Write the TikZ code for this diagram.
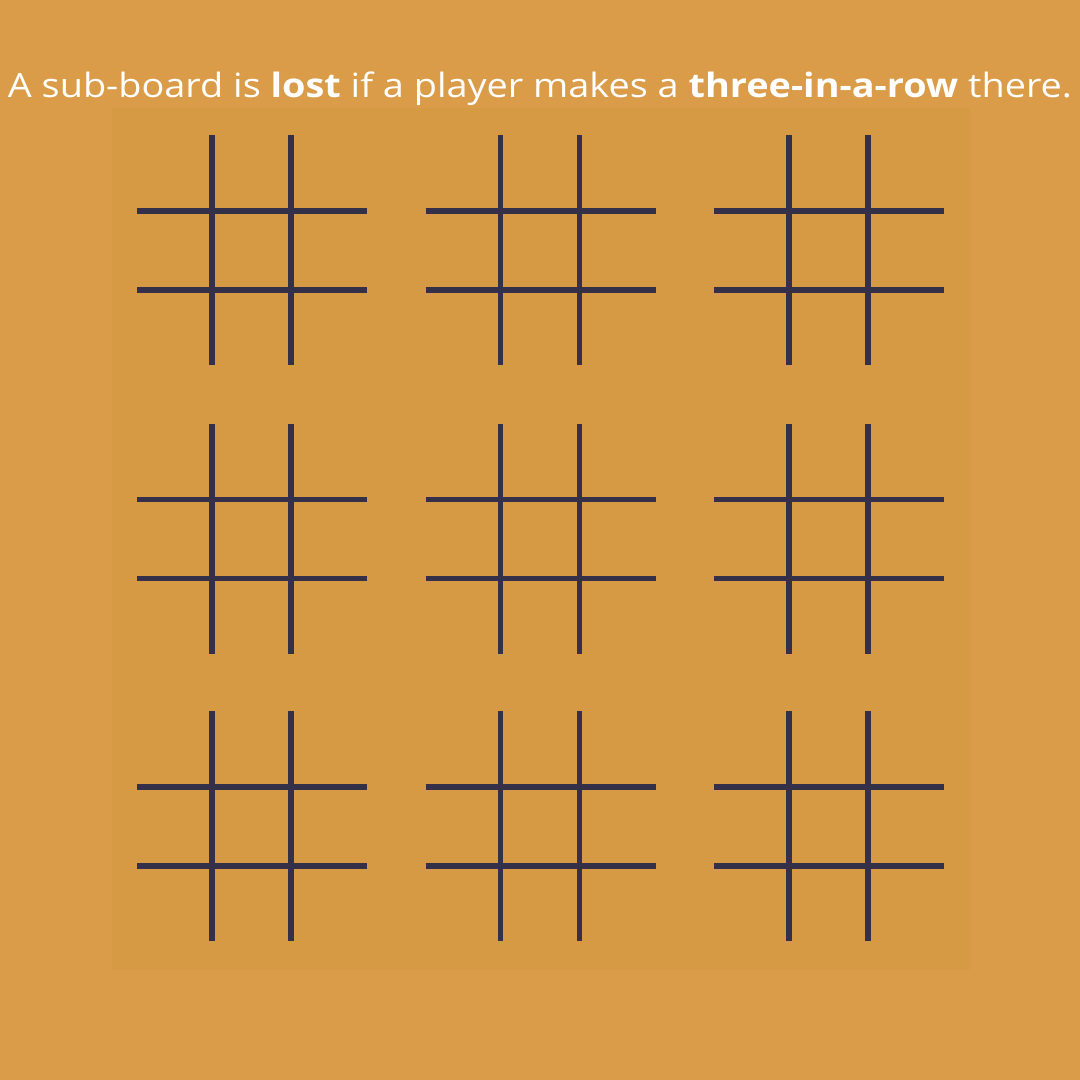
\documentclass[tikz,border=0pt]{standalone}
\usepackage{fontspec}
\setmainfont{Open Sans}
\definecolor{bg}{HTML}{DA9C48}
\definecolor{inner}{HTML}{D79A44}
\definecolor{ink}{HTML}{35304A}
\tikzset{
  gridline/.style={draw=ink, line width=5.5pt},
  caption/.style={text=white, font=\fontsize{33.5}{38}\selectfont, inner sep=0pt}
}
\begin{document}
\begin{tikzpicture}[x=1pt,y=-1pt]
\fill[bg] (0,0) rectangle (1080,1080);
\useasboundingbox (0,0) rectangle (1080,1080);
\fill[inner] (112,108) rectangle (970,970);
\node[caption, anchor=base] (title) at (540,97) {\resizebox{1064pt}{\height}{A sub-board is \textbf{lost} if a player makes a \textbf{three-in-a-row} there.}};
\foreach \c/\cx in {0/0,1/288.5,2/577} {
  \foreach \r/\ry in {0/0,1/288.5,2/576} {
    \begin{scope}[shift={(\cx,\ry)}]
      \coordinate (v1t-\c\r) at (212,135);
      \coordinate (v1b-\c\r) at (212,365);
      \coordinate (v2t-\c\r) at (291,135);
      \coordinate (v2b-\c\r) at (291,365);
      \coordinate (h1l-\c\r) at (137,211);
      \coordinate (h1r-\c\r) at (367,211);
      \coordinate (h2l-\c\r) at (137,290);
      \coordinate (h2r-\c\r) at (367,290);
      \draw[gridline] (v1t-\c\r) -- (v1b-\c\r);
      \draw[gridline] (v2t-\c\r) -- (v2b-\c\r);
      \draw[gridline] (h1l-\c\r) -- (h1r-\c\r);
      \draw[gridline] (h2l-\c\r) -- (h2r-\c\r);
    \end{scope}
  }
}
\end{tikzpicture}
\end{document}
